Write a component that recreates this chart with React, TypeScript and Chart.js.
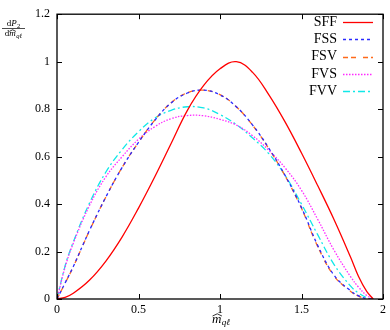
import React, { useEffect, useRef } from "react";
import { Chart, registerables } from "chart.js";
Chart.register(...registerables);

const xValues = [0, 0.05, 0.1, 0.2, 0.3, 0.4, 0.5, 0.6, 0.7, 0.8, 0.9, 1.0, 1.1, 1.2, 1.3, 1.4, 1.5, 1.6, 1.7, 1.8, 1.85, 1.9, 1.94];
const sffValues = [0, 0.007, 0.024, 0.08, 0.16, 0.262, 0.383, 0.515, 0.655, 0.795, 0.9, 0.97, 1.0, 0.955, 0.86, 0.745, 0.615, 0.477, 0.334, 0.178, 0.095, 0.032, 0];
const fssValues = [0, 0.068, 0.137, 0.29, 0.43, 0.555, 0.66, 0.753, 0.826, 0.868, 0.88, 0.86, 0.81, 0.733, 0.635, 0.52, 0.385, 0.225, 0.1, 0.035, 0.013, 0.002, 0];
const fsvValues = [0, 0.067, 0.136, 0.289, 0.43, 0.555, 0.66, 0.754, 0.827, 0.869, 0.88, 0.861, 0.81, 0.732, 0.633, 0.518, 0.382, 0.22, 0.097, 0.033, 0.012, 0.002, 0];
const fvsValues = [0, 0.135, 0.235, 0.395, 0.515, 0.6, 0.673, 0.726, 0.76, 0.773, 0.772, 0.757, 0.733, 0.688, 0.626, 0.552, 0.458, 0.335, 0.205, 0.095, 0.05, 0.015, 0];
const fvvValues = [0, 0.14, 0.24, 0.405, 0.535, 0.63, 0.705, 0.762, 0.795, 0.81, 0.805, 0.777, 0.735, 0.678, 0.612, 0.52, 0.4, 0.27, 0.145, 0.055, 0.025, 0.006, 0];
const seriesLabels = ["SFF", "FSS", "FSV", "FVS", "FVV"];
const xTicks = [0, 0.5, 1, 1.5, 2];
const yTicks = [0, 0.2, 0.4, 0.6, 0.8, 1, 1.2];

const FONT = "'Liberation Serif', 'DejaVu Serif', serif";

function runsWidth(ctx: CanvasRenderingContext2D, runs: any[]) {
  let w = 0;
  for (const r of runs) {
    ctx.font = r.font;
    w += ctx.measureText(r.text).width + (r.gap || 0);
  }
  return w;
}
function drawRuns(ctx: CanvasRenderingContext2D, runs: any[], cx: number, base: number) {
  const total = runsWidth(ctx, runs);
  let x = cx - total / 2;
  const pos: any[] = [];
  for (const r of runs) {
    ctx.font = r.font;
    const w = ctx.measureText(r.text).width;
    ctx.fillText(r.text, x, base + (r.dy || 0));
    pos.push({ x, w });
    x += w + (r.gap || 0);
  }
  return pos;
}
function drawHat(ctx: CanvasRenderingContext2D, x: number, w: number, y: number, h: number) {
  ctx.beginPath();
  ctx.lineWidth = 0.8;
  ctx.moveTo(x, y + h);
  ctx.lineTo(x + w / 2, y);
  ctx.lineTo(x + w, y + h);
  ctx.stroke();
}

const framePlugin = {
  id: "frame",
  afterDraw(chart: any) {
    const ctx: CanvasRenderingContext2D = chart.ctx;
    const a = chart.chartArea;
    const xs = chart.scales.x;
    const ys = chart.scales.y;
    ctx.save();
    ctx.strokeStyle = "#000";
    ctx.fillStyle = "#000";
    ctx.lineWidth = 1.3;
    ctx.setLineDash([]);
    ctx.strokeRect(a.left, a.top, a.right - a.left, a.bottom - a.top);
    const tl = 5;
    ctx.lineWidth = 1;
    ctx.beginPath();
    for (const v of xTicks) {
      const px = Math.round(xs.getPixelForValue(v)) + 0.5;
      ctx.moveTo(px, a.bottom);
      ctx.lineTo(px, a.bottom - tl);
      ctx.moveTo(px, a.top);
      ctx.lineTo(px, a.top + tl);
    }
    for (const v of yTicks) {
      const py = Math.round(ys.getPixelForValue(v)) + 0.5;
      ctx.moveTo(a.left, py);
      ctx.lineTo(a.left + tl, py);
      ctx.moveTo(a.right, py);
      ctx.lineTo(a.right - tl, py);
    }
    ctx.stroke();

    // legend
    const ds = chart.data.datasets;
    ctx.textAlign = "right";
    ctx.textBaseline = "middle";
    ctx.font = `14px ${FONT}`;
    for (let i = 0; i < ds.length; i++) {
      const y = 22 + i * 17.3;
      ctx.fillStyle = "#000";
      ctx.fillText(ds[i].label, 337, y);
      ctx.beginPath();
      ctx.strokeStyle = ds[i].borderColor;
      ctx.lineWidth = ds[i].borderWidth;
      ctx.setLineDash(ds[i].borderDash || []);
      ctx.moveTo(343, Math.round(y) + 0.5);
      ctx.lineTo(373, Math.round(y) + 0.5);
      ctx.stroke();
    }
    ctx.setLineDash([]);

    // y title (fraction)
    ctx.textAlign = "left";
    ctx.textBaseline = "alphabetic";
    ctx.fillStyle = "#000";
    ctx.strokeStyle = "#000";
    const cx = 13.5;
    drawRuns(ctx, [
      { text: "d", font: `9px ${FONT}` },
      { text: "P", font: `italic 9px ${FONT}`, gap: 0.3 },
      { text: "2", font: `6.5px ${FONT}`, dy: 1.5 },
    ], cx, 26);
    ctx.beginPath();
    ctx.lineWidth = 0.7;
    ctx.moveTo(2, 28.5);
    ctx.lineTo(25, 28.5);
    ctx.stroke();
    const dp = drawRuns(ctx, [
      { text: "d", font: `9px ${FONT}` },
      { text: "m", font: `italic 9px ${FONT}`, gap: 0.3 },
      { text: "qℓ", font: `italic 6.5px ${FONT}`, dy: 1.5 },
    ], cx, 36);
    drawHat(ctx, dp[1].x, dp[1].w, 29.8, 1.6);

    // x title
    const xp = drawRuns(ctx, [
      { text: "m", font: `italic 13px ${FONT}`, gap: 0.3 },
      { text: "qℓ", font: `italic 9px ${FONT}`, dy: 2 },
    ], 221, 323);
    drawHat(ctx, xp[0].x + 0.5, xp[0].w, 313.8, 2.2);
    ctx.restore();
  },
};

function makeDataset(label: string, values: number[], color: string, dash: number[]) {
  return {
    label,
    data: xValues.map((x, i) => ({ x, y: values[i] })),
    borderColor: color,
    backgroundColor: color,
    borderWidth: 1.3,
    borderDash: dash,
    pointRadius: 0,
    fill: false,
    tension: 0.4,
  };
}

export default function App() {
  const ref = useRef<HTMLCanvasElement>(null);
  useEffect(() => {
    document.body.style.margin = "0";
    const canvas = ref.current!;
    const chart = new Chart(canvas, {
      type: "line",
      data: {
        datasets: [
          makeDataset(seriesLabels[0], sffValues, "#ff0000", []),
          makeDataset(seriesLabels[1], fssValues, "#2a2aff", [3, 3]),
          makeDataset(seriesLabels[2], fsvValues, "#ff6a1a", [5, 3, 5, 7]),
          makeDataset(seriesLabels[3], fvsValues, "#ff2aff", [1.5, 1.5]),
          makeDataset(seriesLabels[4], fvvValues, "#10e8e8", [7, 3, 2, 3]),
        ],
      },
      options: {
        animation: false,
        responsive: false,
        events: [],
        layout: { padding: { left: 0, right: 5, top: 5, bottom: 0 } },
        plugins: { legend: { display: false }, tooltip: { enabled: false } },
        scales: {
          x: {
            type: "linear",
            min: 0,
            max: 2,
            afterBuildTicks: (s: any) => { s.ticks = xTicks.map((v) => ({ value: v })); },
            afterFit: (s: any) => { s.height = 31; },
            ticks: {
              color: "#000",
              font: { family: FONT, size: 12 },
              padding: 4,
              maxRotation: 0,
              callback: (v: any) => String(Number(Number(v).toFixed(1))),
            },
            grid: { display: false, drawTicks: false },
            border: { display: false },
          },
          y: {
            type: "linear",
            min: 0,
            max: 1.2,
            afterBuildTicks: (s: any) => { s.ticks = yTicks.map((v) => ({ value: v })); },
            afterFit: (s: any) => { s.width = 57; },
            ticks: {
              color: "#000",
              font: { family: FONT, size: 12 },
              padding: 7,
              callback: (v: any) => String(Number(Number(v).toFixed(1))),
            },
            grid: { display: false, drawTicks: false },
            border: { display: false },
          },
        },
      },
      plugins: [framePlugin],
    });
    return () => chart.destroy();
  }, []);
  return (
    <div style={{ width: 390, height: 330 }}>
      <canvas ref={ref} width={390} height={330} style={{ display: "block" }} />
    </div>
  );
}
